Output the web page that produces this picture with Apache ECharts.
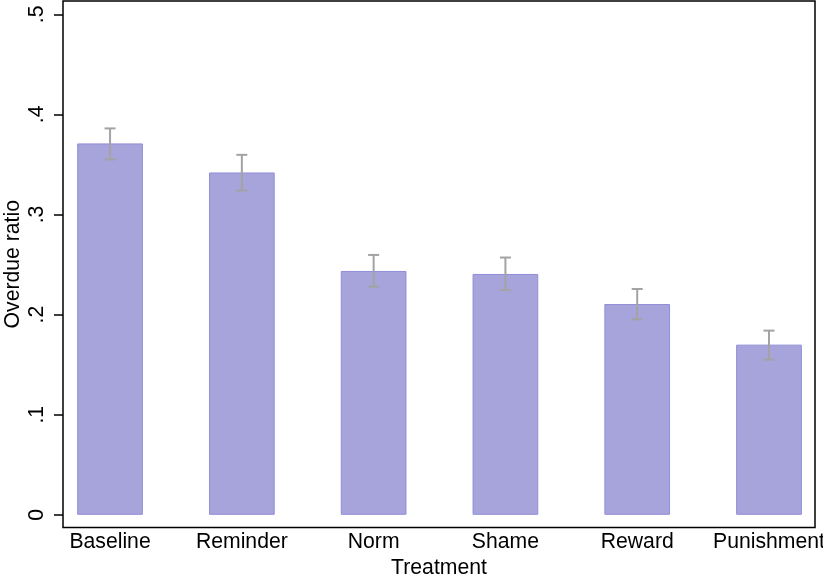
<!DOCTYPE html>
<html>
<head>
<meta charset="utf-8">
<script src="https://cdn.jsdelivr.net/npm/echarts@6/dist/echarts.min.js"></script>
<style>html,body{margin:0;padding:0;background:#fff}#c{width:823px;height:574px}</style>
</head>
<body>
<div id="c"></div>
<script>
const categories = ["Baseline", "Reminder", "Norm", "Shame", "Reward", "Punishment"];
const ratios = [0.371, 0.342, 0.2436, 0.2406, 0.2106, 0.170];
const errLow = [0.355, 0.324, 0.228, 0.2246, 0.1953, 0.155];
const errHigh = [0.386, 0.3596, 0.2596, 0.257, 0.2256, 0.184];
const yTicks = [0, 0.1, 0.2, 0.3, 0.4, 0.5];
const yTickLabels = ["0", ".1", ".2", ".3", ".4", ".5"];

const positions = categories.map((c, i) => i + 1);
const font = "'Liberation Sans', Arial, Helvetica, sans-serif";
const fs = 21.2;

const chart = echarts.init(document.getElementById('c'), null, {renderer: 'canvas'});
chart.setOption({
  animation: false,
  backgroundColor: '#fff',
  grid: {left: 63, right: 8, top: 1, bottom: 46.5, containLabel: false, outerBoundsMode: 'none',
         show: true, borderColor: '#000', borderWidth: 1.5, backgroundColor: '#fff'},
  xAxis: {
    type: 'value', min: 0.643, max: 6.349,
    name: 'Treatment', nameLocation: 'middle', nameGap: 26,
    nameTextStyle: {fontFamily: font, fontSize: fs, color: '#000'},
    axisLine: {show: false}, axisTick: {show: false}, splitLine: {show: false},
    axisLabel: {
      customValues: positions, margin: 4, color: '#000', fontFamily: font, fontSize: fs,
      formatter: v => categories[Math.round(v) - 1] || ''
    }
  },
  yAxis: {
    type: 'value', min: -0.0127, max: 0.5133,
    name: 'Overdue ratio', nameLocation: 'middle', nameGap: 39, nameRotate: 90, nameMoveOverlap: false,
    nameTextStyle: {fontFamily: font, fontSize: fs, color: '#000'},
    axisLine: {show: false}, splitLine: {show: false},
    axisTick: {show: true, customValues: yTicks, length: 9, lineStyle: {color: '#000', width: 1.5}},
    axisLabel: {
      customValues: yTicks, rotate: 90, margin: 15, color: '#000', fontFamily: font, fontSize: fs,
      formatter: v => { const i = yTicks.findIndex(t => Math.abs(t - v) < 1e-6); return i >= 0 ? yTickLabels[i] : ''; }
    }
  },
  series: [
    {
      type: 'bar', barWidth: 65.7,
      data: positions.map((p, i) => [p, ratios[i]]),
      itemStyle: {color: 'rgb(167,164,220)', borderColor: 'rgb(145,141,215)', borderWidth: 1}
    },
    {
      type: 'custom',
      data: positions.map((p, i) => [p, errLow[i], errHigh[i]]),
      renderItem: (params, api) => {
        const lo = api.coord([api.value(0), api.value(1)]);
        const hi = api.coord([api.value(0), api.value(2)]);
        const hw = 5.5;
        const st = {stroke: '#a3a3a3', lineWidth: 2};
        return {type: 'group', children: [
          {type: 'line', shape: {x1: lo[0], y1: lo[1], x2: hi[0], y2: hi[1]}, style: st},
          {type: 'line', shape: {x1: lo[0] - hw, y1: lo[1], x2: lo[0] + hw, y2: lo[1]}, style: st},
          {type: 'line', shape: {x1: hi[0] - hw, y1: hi[1], x2: hi[0] + hw, y2: hi[1]}, style: st}
        ]};
      },
      z: 5
    }
  ]
});
</script>
</body>
</html>
